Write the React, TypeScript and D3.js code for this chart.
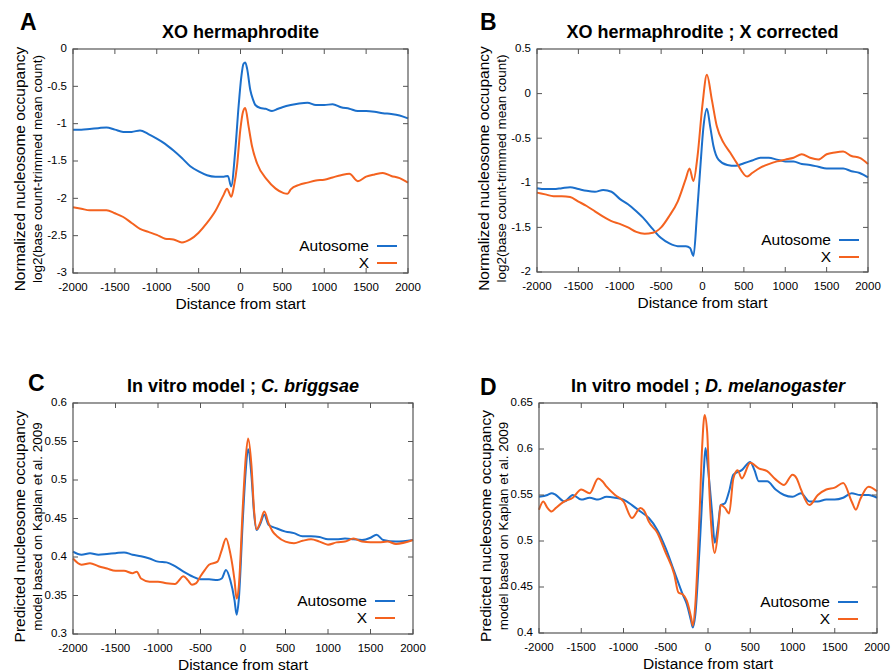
import React, { useEffect, useRef } from 'react'
import * as d3 from 'd3'

// x positions are bp from start, y are the plotted occupancy values
const xTicks = [-2000, -1500, -1000, -500, 0, 500, 1000, 1500, 2000]
const seriesNames = ['Autosome', 'X']
const seriesColors = ['#1b6fcb', '#f4621f']

// A: XO hermaphrodite
const aYTicks = [0, -0.5, -1, -1.5, -2, -2.5, -3]
const aAutosome = [[-2000,-1.08],[-1900,-1.08],[-1800,-1.07],[-1700,-1.06],[-1600,-1.05],[-1500,-1.08],[-1400,-1.11],[-1300,-1.11],[-1200,-1.09],[-1100,-1.14],[-1000,-1.2],[-900,-1.27],[-800,-1.36],[-700,-1.46],[-600,-1.57],[-500,-1.64],[-400,-1.69],[-300,-1.71],[-200,-1.71],[-150,-1.7],[-112,-1.84],[-62,-1.35],[-23,-0.77],[10,-0.37],[35,-0.2],[57,-0.18],[80,-0.27],[117,-0.55],[150,-0.68],[177,-0.75],[237,-0.79],[300,-0.8],[376,-0.83],[450,-0.8],[500,-0.78],[600,-0.75],[700,-0.73],[800,-0.72],[900,-0.75],[1000,-0.75],[1100,-0.74],[1200,-0.78],[1300,-0.8],[1400,-0.83],[1500,-0.83],[1600,-0.84],[1700,-0.86],[1800,-0.87],[1900,-0.89],[2000,-0.93]]
const aX = [[-2000,-2.12],[-1900,-2.14],[-1800,-2.16],[-1700,-2.16],[-1600,-2.16],[-1500,-2.2],[-1400,-2.25],[-1300,-2.33],[-1200,-2.41],[-1100,-2.45],[-1000,-2.49],[-900,-2.54],[-800,-2.55],[-700,-2.59],[-600,-2.55],[-500,-2.46],[-400,-2.33],[-300,-2.17],[-200,-1.95],[-161,-1.87],[-110,-1.98],[-80,-1.85],[-42,-1.57],[-2,-1.08],[30,-0.84],[57,-0.79],[97,-1.04],[137,-1.3],[197,-1.53],[316,-1.75],[420,-1.87],[515,-1.93],[560,-1.94],[600,-1.88],[700,-1.82],[800,-1.79],[900,-1.76],[1000,-1.75],[1100,-1.72],[1200,-1.69],[1300,-1.67],[1400,-1.77],[1500,-1.71],[1600,-1.68],[1700,-1.66],[1800,-1.7],[1900,-1.73],[2000,-1.79]]

// B: XO hermaphrodite ; X corrected
const bYTicks = [0.5, 0, -0.5, -1, -1.5, -2]
const bAutosome = [[-2000,-1.06],[-1900,-1.07],[-1800,-1.07],[-1700,-1.06],[-1600,-1.05],[-1500,-1.07],[-1400,-1.09],[-1300,-1.1],[-1200,-1.08],[-1100,-1.1],[-1000,-1.18],[-900,-1.24],[-800,-1.32],[-700,-1.41],[-600,-1.52],[-500,-1.62],[-400,-1.68],[-300,-1.71],[-200,-1.71],[-150,-1.73],[-109,-1.82],[-68,-1.37],[-28,-0.85],[12,-0.37],[53,-0.17],[93,-0.37],[133,-0.59],[193,-0.74],[300,-0.8],[400,-0.81],[500,-0.78],[600,-0.75],[700,-0.72],[800,-0.72],[900,-0.74],[1000,-0.76],[1100,-0.76],[1200,-0.79],[1300,-0.8],[1400,-0.82],[1500,-0.84],[1600,-0.84],[1700,-0.84],[1800,-0.87],[1900,-0.89],[2000,-0.94]]
const bX = [[-2000,-1.11],[-1900,-1.13],[-1800,-1.15],[-1700,-1.15],[-1600,-1.16],[-1500,-1.21],[-1400,-1.26],[-1300,-1.32],[-1200,-1.38],[-1100,-1.43],[-1000,-1.46],[-900,-1.5],[-800,-1.55],[-700,-1.57],[-600,-1.56],[-500,-1.5],[-400,-1.37],[-300,-1.21],[-200,-0.95],[-157,-0.84],[-110,-0.98],[-60,-0.7],[0,-0.12],[53,0.21],[113,-0.07],[174,-0.37],[254,-0.55],[334,-0.66],[415,-0.78],[540,-0.93],[600,-0.89],[700,-0.83],[800,-0.79],[900,-0.76],[1000,-0.74],[1100,-0.72],[1200,-0.68],[1300,-0.72],[1400,-0.74],[1500,-0.68],[1600,-0.66],[1700,-0.65],[1800,-0.7],[1900,-0.72],[2000,-0.79]]

// C: In vitro model ; C. briggsae
const cYTicks = [0.6, 0.55, 0.5, 0.45, 0.4, 0.35, 0.3]
const cAutosome = [[-2000,0.407],[-1900,0.403],[-1800,0.405],[-1700,0.403],[-1600,0.404],[-1500,0.405],[-1400,0.406],[-1300,0.403],[-1200,0.401],[-1100,0.398],[-1000,0.394],[-900,0.393],[-800,0.388],[-700,0.381],[-600,0.375],[-500,0.371],[-400,0.371],[-300,0.37],[-250,0.372],[-200,0.383],[-150,0.37],[-100,0.344],[-75,0.325],[-50,0.344],[0,0.453],[30,0.509],[60,0.54],[100,0.505],[130,0.457],[160,0.435],[200,0.442],[250,0.455],[300,0.442],[400,0.437],[500,0.433],[600,0.431],[700,0.427],[800,0.427],[900,0.426],[1000,0.423],[1100,0.423],[1200,0.424],[1300,0.423],[1400,0.422],[1500,0.425],[1570,0.429],[1650,0.422],[1800,0.42],[2000,0.422]]
const cX = [[-2000,0.398],[-1900,0.39],[-1800,0.392],[-1700,0.388],[-1600,0.385],[-1500,0.382],[-1400,0.382],[-1300,0.379],[-1250,0.381],[-1200,0.372],[-1100,0.368],[-1000,0.368],[-900,0.366],[-800,0.365],[-700,0.375],[-650,0.37],[-600,0.364],[-550,0.366],[-500,0.375],[-450,0.383],[-400,0.39],[-300,0.394],[-250,0.409],[-200,0.424],[-150,0.405],[-100,0.37],[-75,0.346],[-50,0.361],[0,0.47],[30,0.526],[60,0.554],[100,0.518],[130,0.461],[160,0.436],[200,0.444],[250,0.459],[300,0.444],[350,0.433],[400,0.427],[500,0.42],[600,0.418],[700,0.421],[800,0.423],[900,0.42],[1000,0.416],[1100,0.419],[1200,0.42],[1300,0.424],[1400,0.42],[1500,0.419],[1600,0.419],[1700,0.42],[1800,0.417],[2000,0.422]]

// D: In vitro model ; D. melanogaster
const dYTicks = [0.65, 0.6, 0.55, 0.5, 0.45, 0.4]
const dAutosome = [[-2000,0.548],[-1900,0.55],[-1850,0.552],[-1800,0.55],[-1700,0.543],[-1600,0.55],[-1500,0.545],[-1400,0.547],[-1300,0.545],[-1200,0.548],[-1100,0.547],[-1000,0.545],[-900,0.539],[-800,0.532],[-700,0.525],[-600,0.512],[-500,0.492],[-400,0.467],[-300,0.442],[-250,0.431],[-200,0.413],[-180,0.406],[-150,0.42],[-100,0.492],[-50,0.576],[-30,0.601],[0,0.579],[50,0.529],[80,0.498],[120,0.518],[150,0.539],[200,0.541],[250,0.554],[300,0.572],[400,0.577],[500,0.586],[550,0.577],[600,0.565],[700,0.565],[800,0.556],[900,0.55],[1000,0.548],[1100,0.552],[1200,0.543],[1300,0.543],[1400,0.545],[1500,0.545],[1600,0.547],[1700,0.552],[1800,0.55],[1900,0.55],[2000,0.547]]
const dX = [[-2000,0.534],[-1950,0.543],[-1900,0.536],[-1850,0.532],[-1800,0.536],[-1700,0.543],[-1600,0.547],[-1500,0.556],[-1400,0.552],[-1300,0.568],[-1250,0.565],[-1200,0.559],[-1100,0.55],[-1000,0.543],[-900,0.525],[-800,0.536],[-750,0.532],[-700,0.521],[-600,0.509],[-500,0.487],[-400,0.464],[-350,0.444],[-300,0.442],[-250,0.435],[-200,0.417],[-180,0.408],[-150,0.431],[-100,0.529],[-70,0.601],[-40,0.637],[-10,0.619],[20,0.547],[50,0.503],[80,0.487],[120,0.511],[150,0.539],[200,0.536],[250,0.53],[300,0.568],[350,0.577],[400,0.568],[500,0.585],[600,0.579],[700,0.576],[800,0.567],[900,0.561],[1000,0.572],[1050,0.568],[1100,0.556],[1200,0.539],[1300,0.55],[1400,0.556],[1500,0.558],[1600,0.563],[1700,0.543],[1750,0.534],[1800,0.545],[1900,0.559],[2000,0.554]]

const FONT = '"Liberation Sans", Arial, Helvetica, sans-serif'

// one entry per panel; box = plot area in page pixels
const panels = [
  { letter: 'A', letterPos: [20, 30], title: 'XO hermaphrodite', italic: '',
    yLab: ['Normalized nucleosome occupancy', 'log2(base count-trimmed mean count)'],
    box: [73, 49, 408, 273], yTicks: aYTicks, series: [aAutosome, aX], leg: [31, 27] },
  { letter: 'B', letterPos: [480, 30], title: 'XO hermaphrodite ; X corrected', italic: '',
    yLab: ['Normalized nucleosome occupancy', 'log2(base count-trimmed mean count)'],
    box: [537, 49, 868, 272], yTicks: bYTicks, series: [bAutosome, bX], leg: [29, 32] },
  { letter: 'C', letterPos: [28, 391], title: 'In vitro model ; ', italic: 'C. briggsae',
    yLab: ['Predicted nucleosome occupancy', 'model based on Kaplan et al. 2009'],
    box: [73, 403, 413, 634], yTicks: cYTicks, series: [cAutosome, cX], leg: [38, 33] },
  { letter: 'D', letterPos: [480, 395], title: 'In vitro model ; ', italic: 'D. melanogaster',
    yLab: ['Predicted nucleosome occupancy', 'model based on Kaplan et al. 2009'],
    box: [539, 403, 877, 633], yTicks: dYTicks, series: [dAutosome, dX], leg: [39, 31] },
]

export default function App() {
  const ref = useRef<SVGSVGElement>(null)

  useEffect(() => {
    const svg = d3.select(ref.current)
    svg.selectAll('*').remove()

    panels.forEach(p => {
      const [x0, y0, x1, y1] = p.box
      const yExt = d3.extent(p.yTicks) as [number, number]
      const x = d3.scaleLinear().domain([-2000, 2000]).range([x0, x1])
      const y = d3.scaleLinear().domain(yExt).range([y1, y0])
      const g = svg.append('g')

      // panel letter + title
      g.append('text').attr('x', p.letterPos[0]).attr('y', p.letterPos[1])
        .attr('font-size', 23).attr('font-weight', 'bold').text(p.letter)
      const t = g.append('text').attr('x', (x0 + x1) / 2).attr('y', y0 - 11)
        .attr('text-anchor', 'middle').attr('font-size', 18).attr('font-weight', 'bold')
      t.append('tspan').text(p.title)
      if (p.italic) t.append('tspan').attr('font-style', 'italic').text(p.italic)

      // y labels, two lines
      const cy = (y0 + y1) / 2 + 8
      g.append('text').attr('transform', `translate(${x0 - 53},${cy}) rotate(-90)`)
        .attr('dy', '0.35em').attr('text-anchor', 'middle').attr('font-size', 15.5).text(p.yLab[0])
      g.append('text').attr('transform', `translate(${x0 - 36},${cy}) rotate(-90)`)
        .attr('dy', '0.35em').attr('text-anchor', 'middle').attr('font-size', 13.5).text(p.yLab[1])

      // lines
      const line = d3.line<number[]>()
        .x(d => x(d[0])).y(d => y(d[1]))
        .curve(d3.curveMonotoneX)
      p.series.forEach((s, i) => {
        g.append('path').datum(s)
          .attr('fill', 'none').attr('stroke', seriesColors[i])
          .attr('stroke-width', 2).attr('stroke-linejoin', 'round')
          .attr('d', line)
      })

      // frame with inward ticks on all sides
      g.append('rect').attr('x', x0).attr('y', y0).attr('width', x1 - x0).attr('height', y1 - y0)
        .attr('fill', 'none').attr('stroke', '#555').attr('stroke-width', 1.2)
      const tk = 5
      xTicks.forEach(v => {
        g.append('line').attr('x1', x(v)).attr('x2', x(v)).attr('y1', y1).attr('y2', y1 - tk).attr('stroke', '#555')
        g.append('line').attr('x1', x(v)).attr('x2', x(v)).attr('y1', y0).attr('y2', y0 + tk).attr('stroke', '#555')
        g.append('text').attr('x', x(v)).attr('y', y1 + 17.5).attr('text-anchor', 'middle')
          .attr('font-size', 11.5).text(String(v))
      })
      p.yTicks.forEach(v => {
        g.append('line').attr('x1', x0).attr('x2', x0 + tk).attr('y1', y(v)).attr('y2', y(v)).attr('stroke', '#555')
        g.append('line').attr('x1', x1).attr('x2', x1 - tk).attr('y1', y(v)).attr('y2', y(v)).attr('stroke', '#555')
        g.append('text').attr('x', x0 - 6).attr('y', y(v)).attr('dy', '0.3em')
          .attr('text-anchor', 'end').attr('font-size', 11.5).text(String(v))
      })
      g.append('text').attr('x', (x0 + x1) / 2).attr('y', y1 + 36).attr('text-anchor', 'middle')
        .attr('font-size', 15.5).text('Distance from start')

      // legend, bottom right inside the box
      seriesNames.forEach((n, i) => {
        const ly = y1 - p.leg[1] + i * 17
        const lx = x1 - p.leg[0]
        g.append('line').attr('x1', lx).attr('x2', lx + 20).attr('y1', ly).attr('y2', ly)
          .attr('stroke', seriesColors[i]).attr('stroke-width', 2)
        g.append('text').attr('x', lx - 8).attr('y', ly + 5).attr('text-anchor', 'end')
          .attr('font-size', 15.5).text(n)
      })
    })
  }, [])

  return (
    <svg ref={ref} width={896} height={672}
      style={{ position: 'absolute', left: 0, top: 0, background: '#fff', fontFamily: FONT }} />
  )
}
